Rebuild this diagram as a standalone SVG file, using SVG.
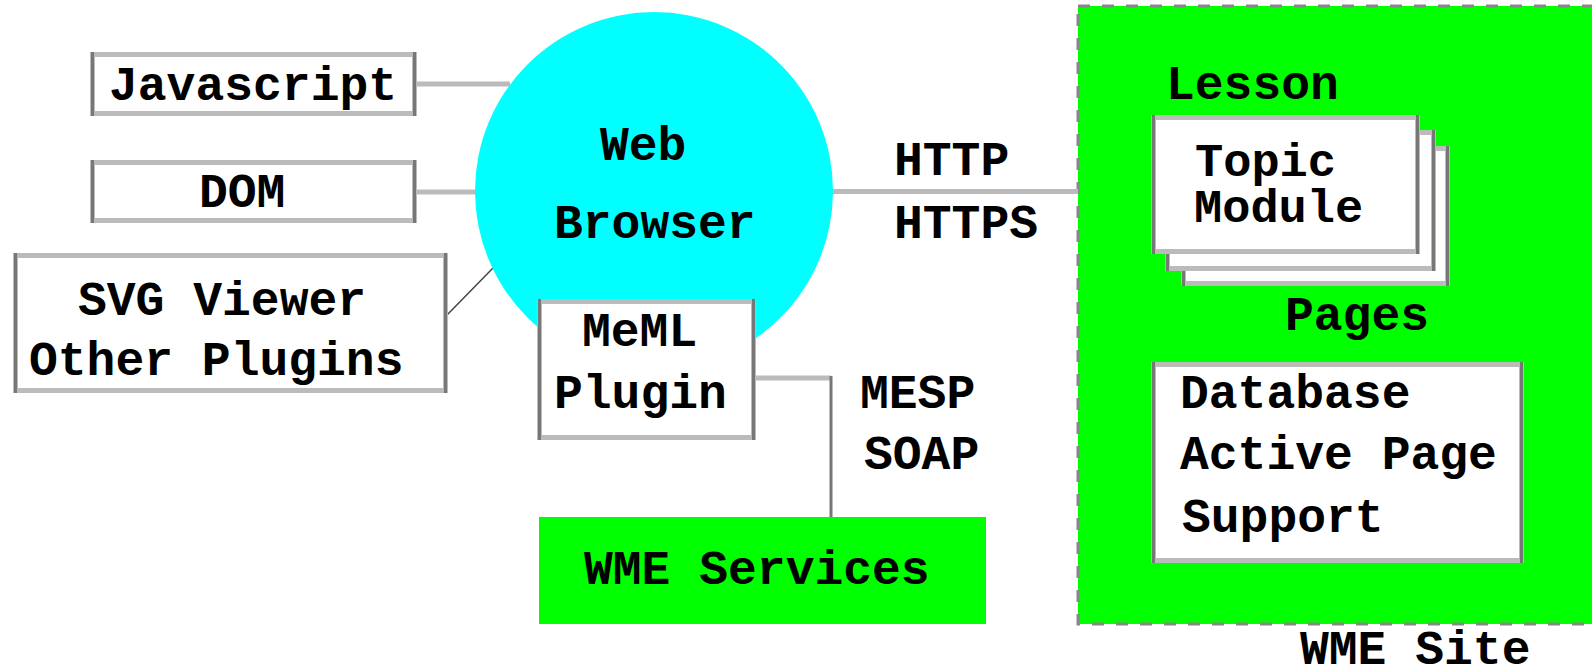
<svg xmlns="http://www.w3.org/2000/svg" width="1592" height="672" viewBox="0 0 1592 672">
<style>
.box{fill:#fff;stroke:#bbb;stroke-width:5}
.side{stroke:#777;stroke-width:3;fill:none}
.t{font-family:"Liberation Mono","Courier New",monospace;font-weight:bold;font-size:48px;fill:#000}
.lc{stroke:#bbb;stroke-width:5;fill:none}
.dc{stroke:#777;stroke-width:3;fill:none}
</style>
<rect width="1592" height="672" fill="#fff"/>
<g id="wme-site">
<rect x="1078" y="6" width="520" height="618" fill="#00ff00" stroke="#888" stroke-width="3" stroke-dasharray="12 12"/>
<text class="t" x="1300" y="664">WME Site</text>
</g>
<g id="connectors">
<line class="lc" x1="416" y1="84" x2="510" y2="84"/>
<line class="lc" x1="416" y1="192" x2="490" y2="192"/>
<line x1="447" y1="315" x2="493" y2="268" stroke="#444" stroke-width="1.5"/>
<line class="lc" x1="800" y1="191.5" x2="1078" y2="191.5"/>
<line class="lc" x1="755" y1="378" x2="831" y2="378"/>
<line class="dc" x1="831" y1="376" x2="831" y2="517"/>
</g>
<g id="browser">
<circle cx="654" cy="191" r="179" fill="#00ffff"/>
<text class="t" x="600" y="160">Web</text>
<text class="t" x="554" y="238">Browser</text>
</g>
<g id="javascript">
<rect class="box" x="92.5" y="54.5" width="322" height="59"/>
<path class="side" d="M92.5 52V116M414.5 52V116"/>
<text class="t" x="109" y="100">Javascript</text>
</g>
<g id="dom">
<rect class="box" x="92.5" y="162.5" width="322" height="58"/>
<path class="side" d="M92.5 160V223M414.5 160V223"/>
<text class="t" x="199" y="207">DOM</text>
</g>
<g id="svg-viewer">
<rect class="box" x="15.5" y="255.5" width="430" height="135"/>
<path class="side" d="M15.5 253V393M445.5 253V393"/>
<text class="t" x="78" y="315">SVG Viewer</text>
<text class="t" x="29" y="375">Other Plugins</text>
</g>
<g id="meml-plugin">
<rect class="box" x="539.5" y="301.5" width="214" height="136"/>
<path class="side" d="M539.5 299V440M753.5 299V440"/>
<text class="t" x="582" y="346">MeML</text>
<text class="t" x="554" y="408">Plugin</text>
</g>
<g id="protocol-labels">
<text class="t" x="894" y="175">HTTP</text>
<text class="t" x="894" y="238">HTTPS</text>
<text class="t" x="860" y="408">MESP</text>
<text class="t" x="864" y="469">SOAP</text>
</g>
<g id="wme-services">
<rect x="539" y="517" width="447" height="107" fill="#00ff00"/>
<text class="t" x="584" y="584">WME Services</text>
</g>
<g id="lesson">
<text class="t" x="1166" y="99">Lesson</text>
<rect class="box" x="1183.5" y="148.5" width="264" height="135"/>
<path class="side" d="M1183.5 146V286M1447.5 146V286"/>
<rect class="box" x="1167.5" y="132.5" width="266" height="136"/>
<path class="side" d="M1167.5 130V271M1433.5 130V271"/>
<rect class="box" x="1153.5" y="117.5" width="264" height="134"/>
<path class="side" d="M1153.5 115V254M1417.5 115V254"/>
<text class="t" x="1195" y="176" style="font-size:47px">Topic</text>
<text class="t" x="1194" y="222" style="font-size:47px">Module</text>
<text class="t" x="1285" y="330">Pages</text>
</g>
<g id="database">
<rect class="box" x="1153.5" y="364.5" width="368" height="196"/>
<path class="side" d="M1153.5 362V563M1521.5 362V563"/>
<text class="t" x="1180" y="408">Database</text>
<text class="t" x="1180" y="469">Active Page</text>
<text class="t" x="1182" y="532">Support</text>
</g>
</svg>
